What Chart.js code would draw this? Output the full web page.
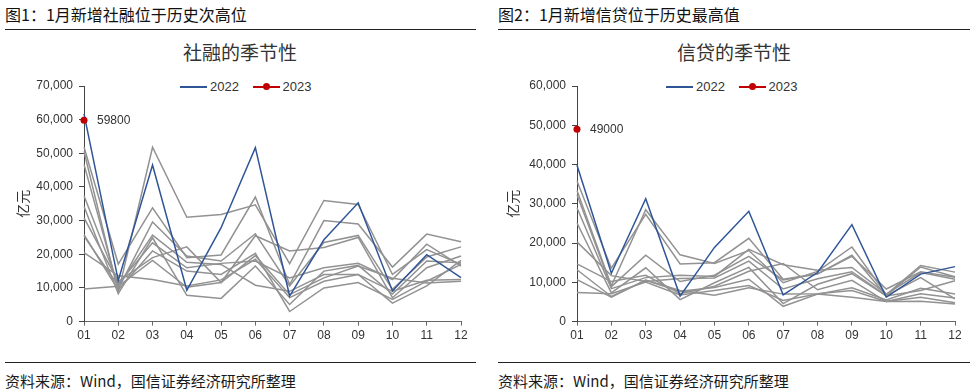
<!DOCTYPE html>
<html>
<head>
<meta charset="utf-8">
<script src="https://cdn.jsdelivr.net/npm/chart.js@4/dist/chart.umd.min.js"></script>
<style>
  body { margin:0; width:973px; height:392px; background:#fff; font-family:"Noto Sans CJK SC", sans-serif; position:relative; overflow:hidden; }
  .head { position:absolute; top:2px; font-size:16px; color:#111; white-space:nowrap; }
  .rule { position:absolute; height:0; border-top:1.5px solid #222; }
  .ctitle { position:absolute; top:38px; font-size:19px; color:#333; white-space:nowrap; transform:translateX(-50%); }
  .src { position:absolute; top:370px; font-size:15px; color:#1a1a1a; white-space:nowrap; }
  .legend { position:absolute; top:79px; font-family:Arial, "Liberation Sans", sans-serif; font-size:13px; color:#333; white-space:nowrap; }
  .legend span.item { display:inline-block; margin-right:10px; }
  .swatch { display:inline-block; width:27px; height:2px; vertical-align:middle; position:relative; margin-right:3px; top:-1px; }
  .dot { position:absolute; left:10px; top:-2.5px; width:7px; height:7px; border-radius:50%; background:#c00000; }
  .box { position:absolute; }
</style>
</head>
<body>
<div class="head" style="left:5px">图1：1月新增社融位于历史次高位</div>
<div class="rule" style="left:5px; width:471px; top:29px"></div>
<div class="head" style="left:498px">图2：1月新增信贷位于历史最高值</div>
<div class="rule" style="left:498px; width:472px; top:29px"></div>

<div class="ctitle" style="left:240px">社融的季节性</div>
<div class="ctitle" style="left:734px">信贷的季节性</div>

<div class="legend" style="left:180px">
  <span class="item"><span class="swatch" style="background:#2f5597"></span>2022</span>
  <span class="item"><span class="swatch" style="background:#c00000"><span class="dot"></span></span>2023</span>
</div>
<div class="legend" style="left:666px">
  <span class="item"><span class="swatch" style="background:#2f5597"></span>2022</span>
  <span class="item"><span class="swatch" style="background:#c00000"><span class="dot"></span></span>2023</span>
</div>

<div class="box" style="left:0; top:66px; width:487px; height:284px"><canvas id="tsfChart"></canvas></div>
<div class="box" style="left:490px; top:66px; width:483px; height:284px"><canvas id="loanChart"></canvas></div>

<div class="rule" style="left:5px; width:471px; top:362px"></div>
<div class="rule" style="left:498px; width:472px; top:362px"></div>
<div class="src" style="left:5px">资料来源：Wind，国信证券经济研究所整理</div>
<div class="src" style="left:498px">资料来源：Wind，国信证券经济研究所整理</div>

<script>
const months = ["01","02","03","04","05","06","07","08","09","10","11","12"];

// 社融（亿元）
const tsf2012 = [9700, 10500, 18200, 10200, 11600, 19600, 8000, 13000, 16500, 12900, 11500, 12000];
const tsf2013 = [25400, 10700, 25700, 17600, 17000, 10800, 9000, 14000, 14000, 9000, 12300, 12500];
const tsf2014 = [25800, 9400, 21000, 15000, 14000, 20300, 3000, 10000, 11600, 6600, 12000, 17000];
const tsf2015 = [20500, 13600, 12500, 10600, 12400, 18500, 7100, 12000, 14000, 5500, 10600, 18200];
const tsf2016 = [34200, 8300, 24900, 7800, 6900, 16500, 5100, 15000, 16700, 8200, 18000, 17500];
const tsf2017 = [37400, 11200, 23400, 16000, 17300, 18000, 13000, 16000, 17300, 12500, 23000, 16500];
const tsf2018 = [30800, 11900, 19000, 22200, 11600, 25500, 21000, 22000, 25000, 7100, 16000, 19500];
const tsf2019 = [46700, 9700, 29600, 19500, 18000, 26100, 10600, 23500, 25600, 9600, 19200, 22200];
const tsf2020 = [50600, 8700, 51800, 31000, 31800, 34700, 17200, 36000, 34800, 14000, 21400, 17000];
const tsf2021 = [51900, 17100, 33800, 19000, 19800, 37000, 11000, 30000, 29000, 16200, 26000, 23700];
const tsf2022 = [61700, 12200, 46500, 9300, 27900, 51700, 7600, 24300, 35300, 9100, 19900, 13100];
const tsf2023 = [59800, null, null, null, null, null, null, null, null, null, null, null];

// 信贷（亿元）
const loan2012 = [7400, 7100, 10100, 6800, 7900, 9200, 5400, 7000, 6200, 5100, 5200, 4500];
const loan2013 = [10700, 6200, 10600, 7900, 6700, 8600, 7000, 7100, 7900, 5100, 6200, 4800];
const loan2014 = [13200, 6400, 10500, 7700, 8700, 10800, 3900, 7000, 8600, 5500, 8500, 7000];
const loan2015 = [14700, 10200, 11800, 7100, 9000, 12800, 14800, 8100, 10500, 5100, 7100, 6000];
const loan2016 = [25100, 7300, 13700, 5600, 9900, 13800, 4600, 9500, 12200, 6500, 7900, 10400];
const loan2017 = [20300, 11700, 10200, 11000, 11100, 15400, 8300, 10900, 12700, 6600, 11200, 5800];
const loan2018 = [29000, 8400, 11200, 11800, 11500, 18400, 14500, 13100, 13800, 7000, 12500, 10800];
const loan2019 = [32300, 8900, 16900, 10200, 11800, 16600, 10600, 12100, 16900, 6600, 13900, 11400];
const loan2020 = [33400, 9100, 28500, 17000, 14800, 18100, 9900, 12800, 19000, 6900, 14300, 12600];
const loan2021 = [35800, 13600, 27300, 14700, 15000, 21200, 10800, 12200, 16600, 8300, 12700, 11300];
const loan2022 = [39800, 12300, 31300, 6500, 18900, 28100, 6800, 12500, 24700, 6200, 12100, 14000];
const loan2023 = [49000, null, null, null, null, null, null, null, null, null, null, null];

const tsfHistory = [tsf2012, tsf2013, tsf2014, tsf2015, tsf2016, tsf2017, tsf2018, tsf2019, tsf2020, tsf2021];
const loanHistory = [loan2012, loan2013, loan2014, loan2015, loan2016, loan2017, loan2018, loan2019, loan2020, loan2021];

const tickFont = { family: 'Arial, "Liberation Sans", sans-serif', size: 12 };

// 2023 数据点旁的数值标注
const pointLabel = {
  id: "pointLabel",
  afterDatasetsDraw(chart) {
    const pt = chart.getDatasetMeta(0).data[0];
    const ctx = chart.ctx;
    ctx.save();
    ctx.font = '12px Arial, "Liberation Sans", sans-serif';
    ctx.fillStyle = "#333";
    ctx.textBaseline = "middle";
    ctx.fillText(String(chart.data.datasets[0].data[0]), pt.x + 13, pt.y);
    ctx.restore();
  }
};

function makeChart(id, history, last, current, yMax, axisWidth, padRight){
  const datasets = [
    { data: current, borderColor: "#c00000", backgroundColor: "#c00000", pointRadius: 3.5, pointBorderWidth: 0, borderWidth: 2, clip: false },
    { data: last, borderColor: "#2f5597", borderWidth: 1.5, pointRadius: 0, clip: false }
  ];
  history.forEach(h => {
    datasets.push({ data: h, borderColor: "#929292", borderWidth: 1.5, pointRadius: 0 });
  });

  return new Chart(document.getElementById(id), {
    type: "line",
    data: { labels: months, datasets: datasets },
    plugins: [pointLabel],
    options: {
      responsive: true,
      maintainAspectRatio: false,
      animation: false,
      layout: { padding: { top: 20, left: 8, right: padRight, bottom: 4 } },
      plugins: { legend: { display: false }, tooltip: { enabled: false } },
      elements: { line: { tension: 0 } },
      scales: {
        x: {
          offset: false,
          grid: { drawOnChartArea: false, tickLength: 4, color: "#666" },
          border: { color: "#666" },
          ticks: { font: tickFont, color: "#333", padding: 3, maxRotation: 0, autoSkip: false }
        },
        y: {
          min: 0,
          max: yMax,
          afterFit(scale){ scale.width = axisWidth; },
          grid: { drawOnChartArea: false, tickLength: 5, color: "#444" },
          border: { color: "#444" },
          ticks: { stepSize: 10000, font: tickFont, color: "#333", padding: 6,
                   callback: v => v.toLocaleString("en-US") },
          title: { display: true, text: "亿元", font: { family: '"Noto Sans CJK SC"', size: 14 }, color: "#333", padding: { top: 6, bottom: 0 } }
        }
      }
    }
  });
}

makeChart("tsfChart", tsfHistory, tsf2022, tsf2023, 70000, 76, 26);
makeChart("loanChart", loanHistory, loan2022, loan2023, 60000, 79, 18);
</script>
</body>
</html>
